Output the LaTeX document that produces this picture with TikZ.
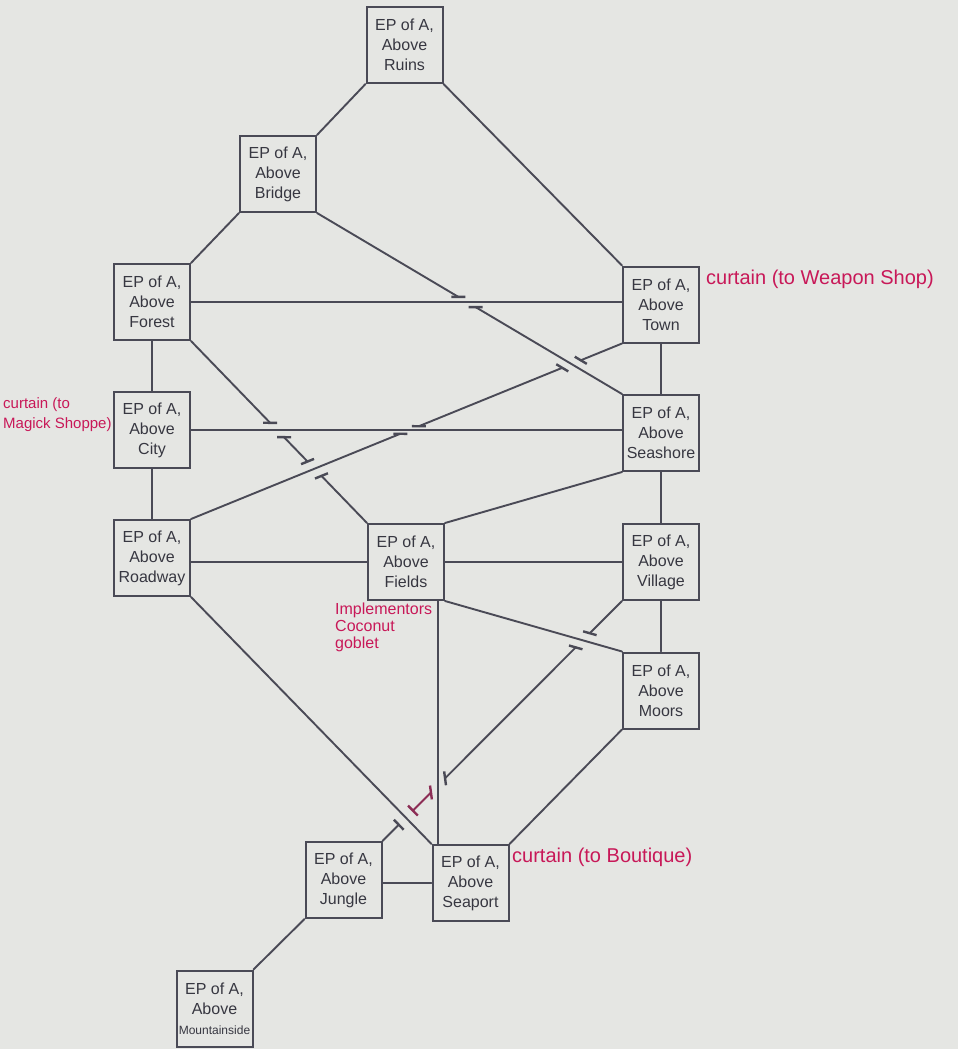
\documentclass[tikz,border=0pt]{standalone}
\usepackage{fontspec}
\setmainfont{Liberation Sans}
\usetikzlibrary{calc,intersections}
\definecolor{bg}{RGB}{229,230,227}
\definecolor{linec}{RGB}{74,74,86}
\definecolor{textc}{RGB}{55,55,65}
\definecolor{pen}{RGB}{200,24,88}
\definecolor{darkpen}{RGB}{140,45,85}
\newcommand\gapd{10pt}
\newcommand\tickmark[4][]{\draw[tickline,#1] let \p1=($(#4)-(#3)$), \n1={atan2(\y1,\x1)} in ($(#2)+(\n1:7pt)$) -- ($(#2)+(\n1+180:7pt)$);}
\begin{document}
\begin{tikzpicture}[x=1pt,y=-1pt,
  room/.style={draw=linec,line width=2pt,fill=bg,minimum width=76pt,minimum height=76pt,inner sep=0pt,align=center,text=textc,font=\fontsize{16}{20}\selectfont},
  edge/.style={draw=linec,line width=1.9pt,line cap=round},
  thinedge/.style={draw=linec,line width=1.4pt,line cap=round},
  tickline/.style={draw=linec,line width=2.4pt},
  note/.style={text=pen,font=\fontsize{20}{22}\selectfont,inner sep=0pt,align=left}]
\fill[bg] (0,0) rectangle (958,1049);
\useasboundingbox (0,0) rectangle (958,1049);

% rooms
\node[room] (ruins) at (404.5,45) {EP of A,\\Above\\Ruins};
\node[room] (bridge) at (278,174) {EP of A,\\Above\\Bridge};
\node[room] (forest) at (152,302) {EP of A,\\Above\\Forest};
\node[room] (town) at (661,304.5) {EP of A,\\Above\\Town};
\node[room] (city) at (152,430) {EP of A,\\Above\\City};
\node[room] (seashore) at (661,433) {EP of A,\\Above\\Seashore};
\node[room] (roadway) at (152,558) {EP of A,\\Above\\Roadway};
\node[room] (fields) at (406,562) {EP of A,\\Above\\Fields};
\node[room] (village) at (661,562) {EP of A,\\Above\\Village};
\node[room] (moors) at (661,690.5) {EP of A,\\Above\\Moors};
\node[room] (jungle) at (343.5,880) {EP of A,\\Above\\Jungle};
\node[room] (seaport) at (470.5,883) {EP of A,\\Above\\Seaport};
\node[room] (mountain) at (214.5,1008.5) {EP of A,\\Above\\{\fontsize{12}{14}\selectfont Mountainside}};

% full connectors
\draw[edge] (ruins.south west) -- (bridge.north east);
\draw[edge] (ruins.south east) -- (town.north west);
\draw[edge] (bridge.south west) -- (forest.north east);
\draw[edge,name path=FT] (forest.east) -- (forest.east -| town.west);
\draw[edge] (forest.south) -- (city.north);
\draw[edge] (town.south) -- (seashore.north);
\draw[edge,name path=CS] (city.east) -- (city.east -| seashore.west);
\draw[edge] (city.south) -- (roadway.north);
\draw[edge] (seashore.south west) -- (fields.north east);
\draw[edge] (seashore.south) -- (village.north);
\draw[edge] (roadway.east |- fields.west) -- (fields.west);
\draw[edge] (fields.east) -- (village.west);
\draw[edge] (village.south) -- (moors.north);
\draw[edge,name path=FM] (fields.south east) -- (moors.north west);
\draw[edge,name path=RS] (roadway.south east) -- (seaport.north west);
\coordinate (fsv) at ($(fields.south east)+(-7,0)$);
\draw[thinedge,name path=FSV] (fsv) -- (fsv |- seaport.north);
\draw[edge] (moors.south west) -- (seaport.north east);
\draw[edge] (jungle.east |- seaport.west) -- (seaport.west);
\draw[edge] (jungle.south west) -- (mountain.north east);

% Bridge - Seashore (passes under Forest - Town)
\path[name path=BS] (bridge.south east) -- (seashore.north west);
\path[name intersections={of=BS and FT,by=bsx}];
\draw[edge] (bridge.south east) -- ($(bsx)!\gapd!(bridge.south east)$) coordinate (bs1);
\draw[edge] ($(bsx)!\gapd!(seashore.north west)$) coordinate (bs2) -- (seashore.north west);
\tickmark{bs1}{forest.east}{town.west}
\tickmark{bs2}{forest.east}{town.west}

% Town - Roadway (under Bridge-Seashore and City-Seashore)
\path[name path=TR] (town.south west) -- (roadway.north east);
\path[name intersections={of=TR and BS,by=trx1}];
\path[name intersections={of=TR and CS,by=trx2}];
\draw[edge] (town.south west) -- ($(trx1)!\gapd!(town.south west)$) coordinate (tr1);
\draw[edge] ($(trx1)!\gapd!(roadway.north east)$) coordinate (tr2) -- ($(trx2)!\gapd!(town.south west)$) coordinate (tr3);
\draw[edge] ($(trx2)!\gapd!(roadway.north east)$) coordinate (tr4) -- (roadway.north east);
\tickmark{tr1}{bridge.south east}{seashore.north west}
\tickmark{tr2}{bridge.south east}{seashore.north west}
\tickmark{tr3}{city.east}{seashore.west}
\tickmark{tr4}{city.east}{seashore.west}

% Forest - Fields (under City-Seashore and Town-Roadway)
\path[name path=FF] (forest.south east) -- (fields.north west);
\path[name intersections={of=FF and CS,by=ffx1}];
\path[name intersections={of=FF and TR,by=ffx2}];
\draw[edge] (forest.south east) -- ($(ffx1)!\gapd!(forest.south east)$) coordinate (ff1);
\draw[edge] ($(ffx1)!\gapd!(fields.north west)$) coordinate (ff2) -- ($(ffx2)!\gapd!(forest.south east)$) coordinate (ff3);
\draw[edge] ($(ffx2)!\gapd!(fields.north west)$) coordinate (ff4) -- (fields.north west);
\tickmark{ff1}{city.east}{seashore.west}
\tickmark{ff2}{city.east}{seashore.west}
\tickmark{ff3}{town.south west}{roadway.north east}
\tickmark{ff4}{town.south west}{roadway.north east}

% Jungle - Village (under Roadway-Seaport, Fields-Seaport, Fields-Moors)
\path[name path=JV] (jungle.north east) -- (village.south west);
\path[name intersections={of=JV and RS,by=jvx1}];
\path[name intersections={of=JV and FSV,by=jvx2}];
\path[name intersections={of=JV and FM,by=jvx3}];
\draw[edge] (jungle.north east) -- ($(jvx1)!\gapd!(jungle.north east)$) coordinate (jv1);
\draw[edge,draw=darkpen] ($(jvx1)!\gapd!(village.south west)$) coordinate (jv2) -- ($(jvx2)!\gapd!(jungle.north east)$) coordinate (jv3);
\draw[edge] ($(jvx2)!\gapd!(village.south west)$) coordinate (jv4) -- ($(jvx3)!\gapd!(jungle.north east)$) coordinate (jv5);
\draw[edge] ($(jvx3)!\gapd!(village.south west)$) coordinate (jv6) -- (village.south west);
\tickmark{jv1}{roadway.south east}{seaport.north west}
\tickmark[darkpen]{jv2}{roadway.south east}{seaport.north west}
\tickmark[darkpen]{jv3}{fsv}{seaport.north}
\tickmark{jv4}{fsv}{seaport.north}
\tickmark{jv5}{fields.south east}{moors.north west}
\tickmark{jv6}{fields.south east}{moors.north west}

% notes
\node[note,anchor=base west] (weapon) at (706,284) {curtain (to Weapon Shop)};
\node[note,font=\fontsize{15}{20}\selectfont,anchor=north west] (magick) at (3,397) {curtain (to\\Magick Shoppe)};
\node[note,font=\fontsize{16}{17}\selectfont,anchor=north west] (goblet) at (335,603) {Implementors\\Coconut\\goblet};
\node[note,anchor=base west] (boutique) at (512,862) {curtain (to Boutique)};
\end{tikzpicture}
\end{document}
